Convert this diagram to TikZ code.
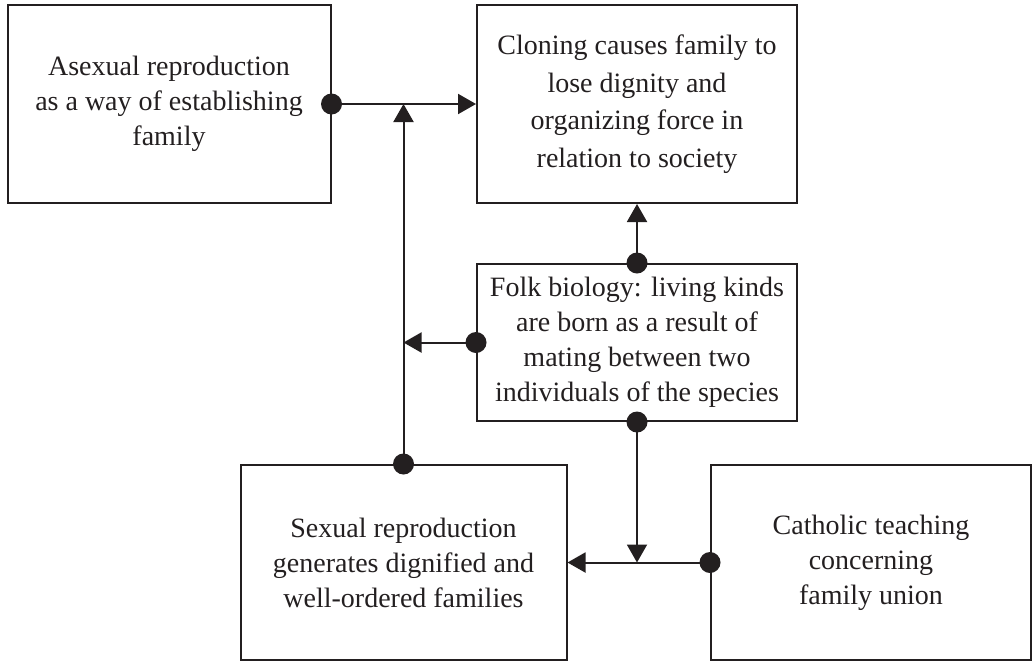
\documentclass[tikz,border=0pt]{standalone}
\usepackage{fontspec}
\setmainfont{Liberation Serif}
\usetikzlibrary{arrows.meta}
\definecolor{ink}{HTML}{231F20}
\begin{document}
\begin{tikzpicture}[x=1pt,y=-1pt,
  box/.style={draw=ink, line width=2pt, align=center, text=ink,
    font=\fontsize{28}{35}\selectfont, inner sep=0pt},
  link/.style={draw=ink, line width=2pt, -{Triangle[length=18pt,width=20pt]}},
  dotfill/.style={fill=ink}]
\useasboundingbox (0,0) rectangle (1033,662);

% boxes
\node[box, minimum width=323pt, minimum height=198pt] (A) at (169,104)
  {Asexual reproduction\\as a way of establishing\\family};
\node[box, minimum width=320pt, minimum height=198pt,
  font=\fontsize{28}{37.5}\selectfont] (B) at (637,104)
  {Cloning causes family to\\lose dignity and\\organizing force in\\relation to society};
\node[box, minimum width=320pt, minimum height=157pt] (C) at (637,342.5)
  {Folk biology: living kinds\\are born as a result of\\mating between two\\individuals of the species};
\node[box, minimum width=326pt, minimum height=195pt] (D) at (403.5,562.5)
  {Sexual reproduction\\generates dignified and\\well-ordered families};
\node[box, minimum width=320pt, minimum height=195pt] (E) at (871,562.5)
  {Catholic teaching\\concerning\\family union};

% connectors
\draw[link] (A.east) -- (B.west);
\draw[link] (D.north) -- (D.north |- A.east);
\draw[link] (C.west) -- (D.north |- C.west);
\draw[link] (C.north) -- (B.south);
\draw[link] (C.south) -- (C.south |- E.west);
\draw[link] (E.west) -- (D.east);

% origin dots
\foreach \p in {A.east, D.north, C.west, C.north, C.south, E.west}
  \fill[dotfill] (\p) circle (10.5pt);
\end{tikzpicture}
\end{document}
